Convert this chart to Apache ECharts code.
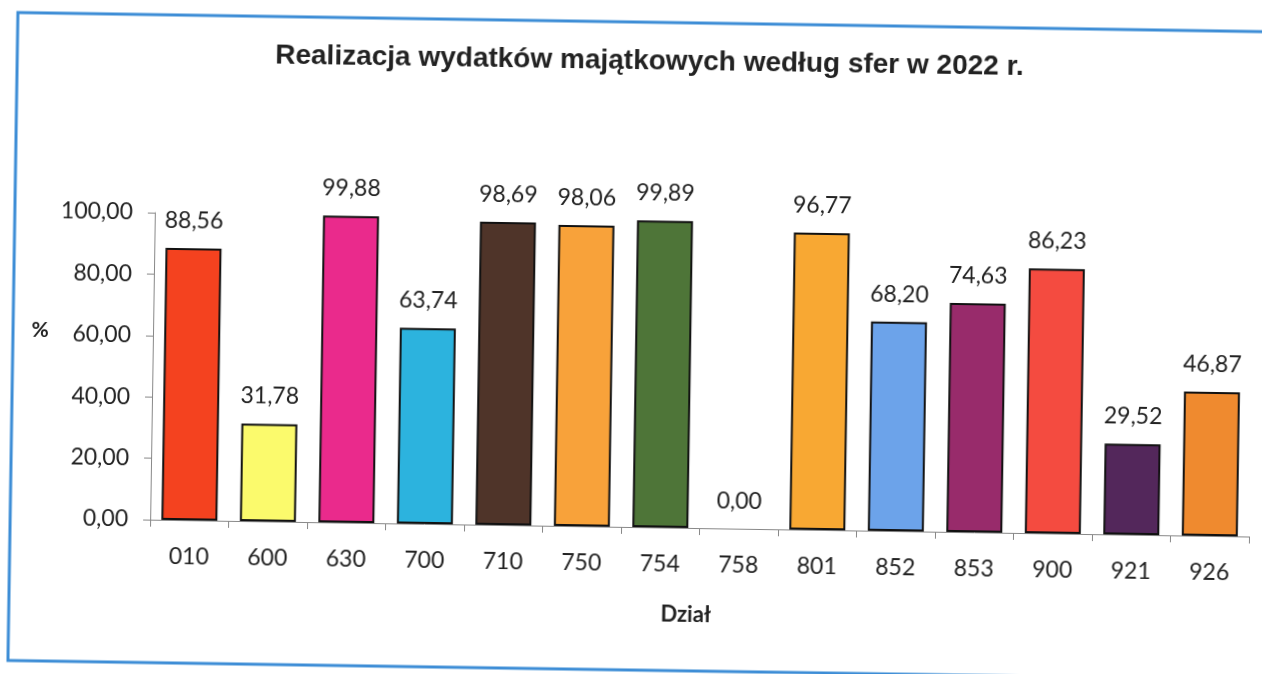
<!DOCTYPE html>
<html>
<head>
<meta charset="utf-8">
<script src="https://cdn.jsdelivr.net/npm/echarts@6/dist/echarts.min.js"></script>
<style>
  html, body { margin: 0; padding: 0; background: #fff; overflow: hidden; }
  /* skan jest lekko przekrzywiony */
  #chart { width: 1262px; height: 674px; transform: rotate(0.88deg); transform-origin: 631px 337px; }
</style>
</head>
<body>
<div id="chart"></div>
<script>
// działy
const categories = ['010', '600', '630', '700', '710', '750', '754', '758', '801', '852', '853', '900', '921', '926'];
// realizacja w %
const values = [88.56, 31.78, 99.88, 63.74, 98.69, 98.06, 99.89, 0.00, 96.77, 68.20, 74.63, 86.23, 29.52, 46.87];
// ticki osi Y
const yTicks = [0, 20, 40, 60, 80, 100];

const barColors = ['#f4421f', '#fbfa6c', '#ea2a8c', '#2cb3de', '#4f3429', '#f8a23a', '#4e7538',
  '#999999', '#f8a833', '#6ca3ea', '#982b6b', '#f44b40', '#53275b', '#ef8a2f'];

const fmt = v => v.toFixed(2).replace('.', ',');
const font = 'Lato, "Open Sans", sans-serif';

const chart = echarts.init(document.getElementById('chart'));

const option = {
  backgroundColor: '#fff',
  animation: false,
  title: {
    text: 'Realizacja wydatków majątkowych według sfer w 2022 r.',
    left: 266,
    top: 42,
    textStyle: {
      fontFamily: '"Liberation Sans", Arial, sans-serif',
      fontWeight: 'bold',
      fontSize: 28,
      color: '#222'
    }
  },
  grid: {
    left: 153,
    right: 10,
    top: 220,
    bottom: 147
  },
  xAxis: {
    type: 'category',
    data: categories,
    axisLine: { lineStyle: { color: '#888', width: 1 } },
    axisTick: { show: true, length: 7, lineStyle: { color: '#888' } },
    axisLabel: { fontFamily: font, fontSize: 23, color: '#222', margin: 25, interval: 0 }
  },
  yAxis: {
    type: 'value',
    min: yTicks[0],
    max: yTicks[yTicks.length - 1],
    interval: yTicks[1] - yTicks[0],
    axisLine: { show: true, lineStyle: { color: '#888', width: 1 } },
    axisTick: { show: true, length: 7, lineStyle: { color: '#888' } },
    splitLine: { show: false },
    axisLabel: {
      fontFamily: font, fontSize: 23, color: '#222', margin: 22,
      formatter: v => fmt(v)
    }
  },
  graphic: [
    {
      type: 'rect',
      shape: { x: 13, y: 22, width: 1252, height: 648 },
      style: { fill: 'none', stroke: '#3d8dd6', lineWidth: 3 },
      z: 0
    },
    {
      type: 'text',
      x: 40,
      y: 339,
      style: { text: '%', font: 'bold 21px ' + font, fill: '#222', align: 'center', verticalAlign: 'middle' }
    },
    {
      type: 'text',
      x: 690,
      y: 614,
      style: { text: 'Dział', font: 'bold 22px ' + font, fill: '#222', align: 'center', verticalAlign: 'middle' }
    }
  ],
  series: [
    {
      type: 'bar',
      barWidth: 56,
      data: values.map((v, i) => ({
        value: v,
        itemStyle: {
          color: barColors[i],
          borderColor: '#111',
          borderWidth: v === 0 ? 0 : 2
        }
      })),
      label: {
        show: true,
        position: 'top',
        distance: 16,
        fontFamily: font,
        fontSize: 23,
        color: '#222',
        formatter: p => fmt(p.value)
      }
    }
  ]
};

chart.setOption(option);
</script>
</body>
</html>
